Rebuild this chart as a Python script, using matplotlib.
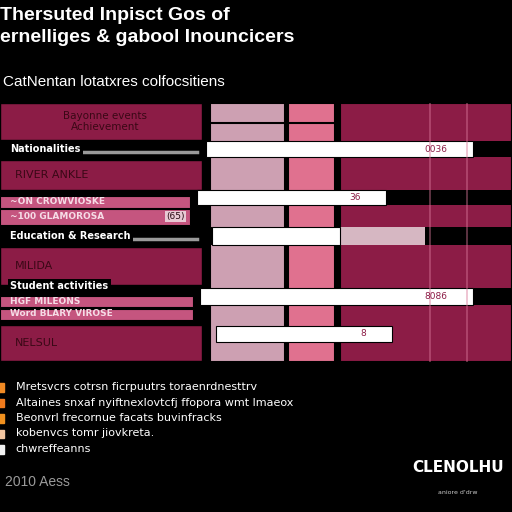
import matplotlib.pyplot as plt

# ---- data ----
title_lines = ["Thersuted Inpisct Gos of", "ernelliges & gabool Inouncicers"]
subtitle = "CatNentan lotatxres colfocsitiens"

band_labels = ["Bayonne events\nAchievement", "RIVER ANKLE", "MILIDA", "NELSUL"]
strip_labels = ["Nationalities", "", "Education & Research", "Student activities", ""]
bar_starts = [40.2, 38.5, 41.4, 39.1, 42.2]
bar_values = [52.2, 36.9, 25.0, 53.3, 34.4]
bar_extra = [0.0, 0.0, 16.6, 0.0, 0.0]
bar_texts = ["0036", "36", "", "8086", "8"]
pink_labels = ["~ON CROWVIOSKE", "~100 GLAMOROSA", "HGF MILEONS", "Word BLARY VIROSE"]
pink_values = [37.1, 37.1, 37.7, 37.7]
pink_tags = ["", "(65)", "", ""]

col_left = [41.0, 56.2, 66.4]
col_width = [14.7, 9.2, 33.6]
col_colors = ["#cda0b2", "#e0718f", "#8c1c46"]

legend_items = ["Mretsvcrs cotrsn ficrpuutrs toraenrdnesttrv",
                "Altaines snxaf nyiftnexlovtcfj ffopora wmt lmaeox",
                "Beonvrl frecornue facats buvinfracks",
                "kobenvcs tomr jiovkreta.",
                "chwreffeanns"]
legend_colors = ["#f08a24", "#f07a1c", "#f0901e", "#f3c6a0", "#f2f2f2"]

# ---- layout (panel rows, pixel units from top) ----
band_y = [(103, 140), (160, 190), (247, 285), (325, 361)]
strip_y = [(141, 157), (190, 205), (227, 245), (288, 305), (326, 342)]
strip_black = [True, True, True, True, False]
label_y = [149, None, 236, 286, None]
pink_y = [(195, 208), (208, 225), (295, 307), (308, 320)]

CRIMSON = "#8c1c46"
PINKBAR = "#c5557f"

fig = plt.figure(figsize=(5.12, 5.12), dpi=100, facecolor="black")

top, bottom = 103, 362
ax = fig.add_axes([0, 1 - bottom / 512, 1, (bottom - top) / 512])
ax.set_facecolor("black")
ax.set_xlim(0, 100)
ax.set_ylim(bottom, top)
ax.axis("off")

# background columns
ax.barh([(top + bottom) / 2] * 3, col_width, left=col_left, height=bottom - top,
        color=col_colors, edgecolor="black", linewidth=1.5)
ax.axhline(123, xmin=0.41, xmax=0.655, color="black", lw=1.5)
for xv in [84.0, 91.2]:
    ax.axvline(xv, color="#d9789a", lw=1.2, alpha=0.5)

# left crimson blocks
for (y0, y1), lab in zip(band_y, band_labels):
    ax.barh((y0 + y1) / 2, 39.5, left=0, height=y1 - y0, color=CRIMSON,
            edgecolor="black", linewidth=1)
    if "\n" in lab:
        ax.text(20.5, (y0 + y1) / 2, lab, color="#3a0816", fontsize=7.5,
                ha="center", va="center", linespacing=1.1)
    else:
        ax.text(3, (y0 + y1) / 2, lab, color="#3a0816", fontsize=8,
                ha="left", va="center")

# black strips
for (y0, y1), blk in zip(strip_y, strip_black):
    if blk:
        ax.barh((y0 + y1) / 2, 100, left=0, height=y1 - y0, color="black")

# pink label bars
for (y0, y1), lab, v, tag in zip(pink_y, pink_labels, pink_values, pink_tags):
    ax.barh((y0 + y1) / 2, v, left=0, height=y1 - y0 - 1, color=PINKBAR,
            edgecolor="black", linewidth=0.8)
    ax.text(2, (y0 + y1) / 2, lab, color="#f6dce6", fontsize=6.5,
            ha="left", va="center", fontweight="bold")
    if tag:
        ax.text(v - 1, (y0 + y1) / 2, tag, color="#2a0a14", fontsize=6.5,
                ha="right", va="center",
                bbox=dict(boxstyle="square,pad=0.1", fc="#e8c9d4", ec="none"))

# white value bars
for (y0, y1), s, v, ex, t in zip(strip_y, bar_starts, bar_values, bar_extra, bar_texts):
    yc = (y0 + y1) / 2
    if ex:
        ax.barh(yc, ex, left=s + v, height=y1 - y0, color="#d6b7c2")
    ax.barh(yc, v, left=s, height=y1 - y0, color="white", edgecolor="black",
            linewidth=0.8)
    if t:
        ax.text(s + v - 5, yc, t, color="#8c1c46", fontsize=6.5,
                ha="right", va="center")

# strip labels
for ly, lab in zip(label_y, strip_labels):
    if lab:
        ax.text(2, ly, lab, color="white", fontsize=7, fontweight="bold",
                ha="left", va="center",
                bbox=dict(boxstyle="square,pad=0.25", fc="black", ec="none"))
        if lab != "Student activities":
            ax.plot([16.5, 38.5], [ly + 3, ly + 3], color="#9a9a9a", lw=2.5)

# titles
for i, line in enumerate(title_lines):
    fig.text(0.0, 1 - (16 + 22 * i) / 512, line, color="white", fontsize=14,
             fontweight="bold", family="Liberation Sans", ha="left", va="center")
fig.text(0.006, 1 - 82 / 512, subtitle, color="white", fontsize=11,
         family="Liberation Sans", ha="left", va="center")

# legend
for i, (lab, c) in enumerate(zip(legend_items, legend_colors)):
    y = 1 - (387 + 15.5 * i) / 512
    fig.patches.append(plt.Rectangle((-0.004, y - 0.009), 0.012, 0.016,
                                     transform=fig.transFigure, color=c,
                                     figure=fig))
    fig.text(0.031, y, lab, color="white", fontsize=8,
             family="Liberation Sans Narrow", ha="left", va="center")

fig.text(0.01, 1 - 482 / 512, "2010 Aess", color="#9a9a9a", fontsize=10,
         family="Liberation Sans", ha="left", va="center")
fig.text(0.895, 1 - 468 / 512, "CLENOLHU", color="white", fontsize=11,
         fontweight="bold", family="Liberation Sans Narrow",
         ha="center", va="center")
fig.text(0.895, 1 - 492 / 512, "aniore d'drw", color="#cccccc", fontsize=4.5,
         ha="center", va="center")

fig.savefig("out.png", dpi=100, facecolor="black")
